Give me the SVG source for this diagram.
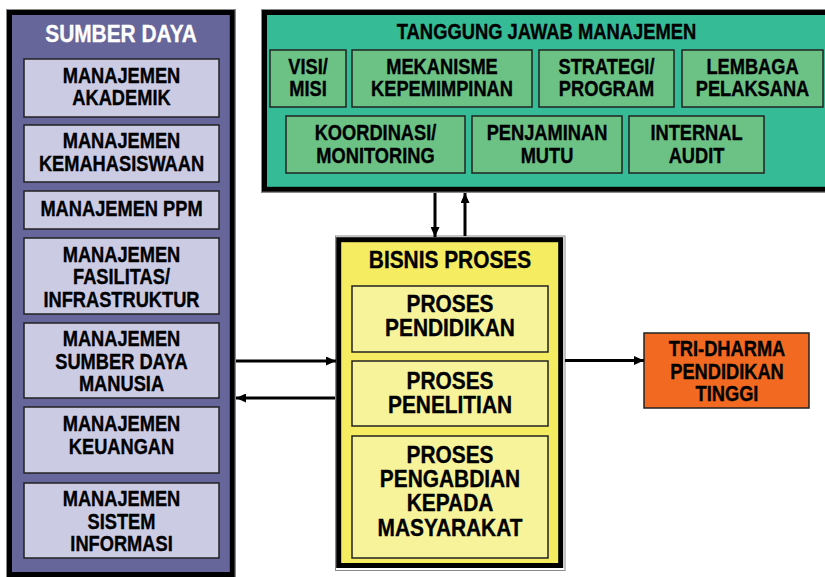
<svg xmlns="http://www.w3.org/2000/svg" width="825" height="577" viewBox="0 0 825 577">
<style>
  .t { font-family: "Liberation Sans", Arial, sans-serif; font-weight: bold; text-anchor: middle; fill: #000; stroke: #000; stroke-width: 0.35; }
  .s21 { font-size: 22px; }
  .s24 { font-size: 24px; }
  .w { fill: #fff; stroke: #fff; }
  .outer { fill: none; stroke: #8a8a8a; stroke-width: 1; }
  .band { stroke: #000; stroke-width: 5; }
  .box { stroke: #222; stroke-width: 1.5; }
  .lav { fill: #CBCBE4; }
  .grn { fill: #6CC184; }
  .yel { fill: #F7F39B; }
  .conn { stroke: #000; stroke-width: 3; fill: none; }
</style>
<defs>
  <marker id="ah" markerUnits="userSpaceOnUse" markerWidth="11" markerHeight="9" refX="10" refY="4.5" orient="auto">
    <path d="M0,0 L10,4.5 L0,9 z" fill="#000"/>
  </marker>
</defs>
<rect width="825" height="577" fill="#fff"/>

<g id="sumber-daya">
  <rect class="outer" x="6.5" y="9.5" width="229" height="569"/>
  <rect class="band" x="9.5" y="12.5" width="222.8" height="562" fill="#66669A"/>
  <text class="t s24 w" transform="translate(121 0) scale(0.87 1)"><tspan x="0" y="42">SUMBER DAYA</tspan></text>
</g>
<g id="m-akademik">
  <rect class="box lav" x="24" y="59" width="195" height="58"/>
  <text class="t s21" transform="translate(121.5 0) scale(0.83 1)"><tspan x="0" y="83">MANAJEMEN</tspan><tspan x="0" y="105">AKADEMIK</tspan></text>
</g>
<g id="m-kemahasiswaan">
  <rect class="box lav" x="24" y="125" width="195" height="57"/>
  <text class="t s21" transform="translate(121.5 0) scale(0.83 1)"><tspan x="0" y="148">MANAJEMEN</tspan><tspan x="0" y="171">KEMAHASISWAAN</tspan></text>
</g>
<g id="m-ppm">
  <rect class="box lav" x="24" y="191" width="195" height="38"/>
  <text class="t s21" transform="translate(121.5 0) scale(0.83 1)"><tspan x="0" y="216.5">MANAJEMEN PPM</tspan></text>
</g>
<g id="m-fasilitas">
  <rect class="box lav" x="24" y="238" width="195" height="76"/>
  <text class="t s21" transform="translate(121.5 0) scale(0.83 1)"><tspan x="0" y="262">MANAJEMEN</tspan><tspan x="0" y="284.5">FASILITAS/</tspan><tspan x="0" y="307">INFRASTRUKTUR</tspan></text>
</g>
<g id="m-sdm">
  <rect class="box lav" x="24" y="323" width="195" height="75"/>
  <text class="t s21" transform="translate(121.5 0) scale(0.83 1)"><tspan x="0" y="346.5">MANAJEMEN</tspan><tspan x="0" y="369">SUMBER DAYA</tspan><tspan x="0" y="391.5">MANUSIA</tspan></text>
</g>
<g id="m-keuangan">
  <rect class="box lav" x="24" y="407" width="195" height="66"/>
  <text class="t s21" transform="translate(121.5 0) scale(0.83 1)"><tspan x="0" y="431.5">MANAJEMEN</tspan><tspan x="0" y="454">KEUANGAN</tspan></text>
</g>
<g id="m-si">
  <rect class="box lav" x="24" y="483" width="195" height="75"/>
  <text class="t s21" transform="translate(121.5 0) scale(0.83 1)"><tspan x="0" y="506.5">MANAJEMEN</tspan><tspan x="0" y="529">SISTEM</tspan><tspan x="0" y="551.5">INFORMASI</tspan></text>
</g>

<g id="tanggung-jawab">
  <rect class="outer" x="261.5" y="9.5" width="580" height="183"/>
  <rect class="band" x="264.5" y="12.5" width="575" height="176.8" fill="#35BB95"/>
  <text class="t s21" transform="translate(546.5 0) scale(0.835 1)"><tspan x="0" y="39.5">TANGGUNG JAWAB MANAJEMEN</tspan></text>
</g>
<g id="visi-misi">
  <rect class="box grn" x="270" y="50" width="76" height="57"/>
  <text class="t s21" transform="translate(308 0) scale(0.83 1)"><tspan x="0" y="74">VISI/</tspan><tspan x="0" y="96.5">MISI</tspan></text>
</g>
<g id="mekanisme">
  <rect class="box grn" x="352" y="50" width="180" height="57"/>
  <text class="t s21" transform="translate(442 0) scale(0.83 1)"><tspan x="0" y="74">MEKANISME</tspan><tspan x="0" y="96.5">KEPEMIMPINAN</tspan></text>
</g>
<g id="strategi">
  <rect class="box grn" x="539" y="50" width="135" height="57"/>
  <text class="t s21" transform="translate(606.5 0) scale(0.83 1)"><tspan x="0" y="74">STRATEGI/</tspan><tspan x="0" y="96.5">PROGRAM</tspan></text>
</g>
<g id="lembaga">
  <rect class="box grn" x="682" y="50" width="141" height="57"/>
  <text class="t s21" transform="translate(752.5 0) scale(0.83 1)"><tspan x="0" y="74">LEMBAGA</tspan><tspan x="0" y="96.5">PELAKSANA</tspan></text>
</g>
<g id="koordinasi">
  <rect class="box grn" x="286" y="116" width="179" height="57"/>
  <text class="t s21" transform="translate(375.5 0) scale(0.83 1)"><tspan x="0" y="140.5">KOORDINASI/</tspan><tspan x="0" y="163">MONITORING</tspan></text>
</g>
<g id="penjaminan">
  <rect class="box grn" x="472" y="116" width="150" height="57"/>
  <text class="t s21" transform="translate(547 0) scale(0.83 1)"><tspan x="0" y="140.5">PENJAMINAN</tspan><tspan x="0" y="163">MUTU</tspan></text>
</g>
<g id="internal-audit">
  <rect class="box grn" x="629" y="116" width="135" height="57"/>
  <text class="t s21" transform="translate(696.5 0) scale(0.83 1)"><tspan x="0" y="140.5">INTERNAL</tspan><tspan x="0" y="163">AUDIT</tspan></text>
</g>

<g id="bisnis-proses">
  <rect class="outer" x="335.5" y="236" width="229.5" height="334.5"/>
  <rect class="band" x="338.7" y="239.7" width="222" height="325.8" fill="#F5EC62"/>
  <text class="t s24" transform="translate(450 0) scale(0.87 1)"><tspan x="0" y="268.5">BISNIS PROSES</tspan></text>
</g>
<g id="p-pendidikan">
  <rect class="box yel" x="352" y="286" width="196" height="66"/>
  <text class="t s24" transform="translate(450 0) scale(0.87 1)"><tspan x="0" y="312.5">PROSES</tspan><tspan x="0" y="336.5">PENDIDIKAN</tspan></text>
</g>
<g id="p-penelitian">
  <rect class="box yel" x="352" y="361" width="196" height="65"/>
  <text class="t s24" transform="translate(450 0) scale(0.87 1)"><tspan x="0" y="389">PROSES</tspan><tspan x="0" y="413">PENELITIAN</tspan></text>
</g>
<g id="p-pengabdian">
  <rect class="box yel" x="352" y="436" width="196" height="122"/>
  <text class="t s24" transform="translate(450 0) scale(0.87 1)"><tspan x="0" y="463">PROSES</tspan><tspan x="0" y="487">PENGABDIAN</tspan><tspan x="0" y="511">KEPADA</tspan><tspan x="0" y="536">MASYARAKAT</tspan></text>
</g>

<g id="tri-dharma">
  <rect class="box" x="644" y="333" width="165" height="75" fill="#F26A21"/>
  <text class="t s21" transform="translate(727 0) scale(0.83 1)"><tspan x="0" y="356.5">TRI-DHARMA</tspan><tspan x="0" y="379">PENDIDIKAN</tspan><tspan x="0" y="401.5">TINGGI</tspan></text>
</g>

<g id="connectors">
  <line class="conn" x1="435" y1="193" x2="435" y2="237" marker-end="url(#ah)"/>
  <line class="conn" x1="465" y1="236" x2="465" y2="193" marker-end="url(#ah)"/>
  <line class="conn" x1="236" y1="361" x2="336" y2="361" marker-end="url(#ah)"/>
  <line class="conn" x1="335" y1="398" x2="236" y2="398" marker-end="url(#ah)"/>
  <line class="conn" x1="565" y1="360.5" x2="644" y2="360.5" marker-end="url(#ah)"/>
</g>
</svg>
